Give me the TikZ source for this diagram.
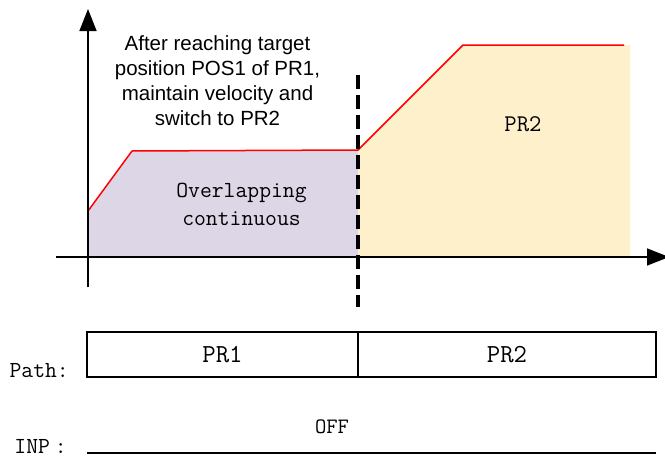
\documentclass[tikz,border=0pt]{standalone}
\usepackage{fontspec}
\newfontfamily\arialfont{Liberation Sans}
\usepackage{xcolor}
\usepackage{tikz}
\usetikzlibrary{positioning, arrows.meta}
\definecolor{overlapfill}{RGB}{220,214,230}
\definecolor{prfill}{RGB}{255,240,204}

\begin{document}
\begin{tikzpicture}[x=1pt, y=-1pt,
  every node/.style={inner sep=0pt},
  axis/.style={line width=1.6pt, -{Triangle[length=22pt, width=17pt]}},
  speed/.style={red, line width=1.5pt},
  ann/.style={font=\arialfont\fontsize{20.5}{25}\selectfont, align=center},
  lbl/.style={font=\ttfamily\fontsize{23}{28}\selectfont, align=center},
  seg/.style={draw, line width=1.4pt, outer sep=0pt, minimum height=45pt,
              font=\ttfamily\fontsize{26}{30}\selectfont}]
\useasboundingbox (0,0) rectangle (665,458);

% speed profile
\coordinate (o)  at (88,257);
\coordinate (s0) at (88,211);
\coordinate (s1) at (132,151);
\coordinate (sw) at (358,150);
\coordinate (sb) at (358,257);
\coordinate (s2) at (463,45);
\coordinate (s3) at (624,45);
\fill[overlapfill] (o) -- (s0) -- (s1) -- (sw) -- (sb) -- cycle;
\fill[prfill] (sb) -- (sw) -- (s2) -- (630,45) -- (630,257) -- cycle;
\draw[speed] (s0) -- (s1) -- (sw) -- (s2) -- (s3);

% axes
\coordinate (ybot) at (88,287);
\coordinate (ytop) at (88,9);
\coordinate (xl) at (56,257);
\coordinate (xr) at (669,257);
\draw[axis] (ybot) -- (ytop);
\draw[axis] (xl) -- (xr);

% switch point
\coordinate (dtop) at (358,75);
\coordinate (dbot) at (358,307);
\draw[line width=3.5pt, dash pattern=on 14pt off 6pt] (dtop) -- (dbot);

\node[ann, anchor=base] (note) at (217.5,125)
  {After reaching target\\position POS1 of PR1,\\maintain velocity and\\switch to PR2};
\node[lbl, anchor=base] (overlap) at (241.5,225) {Overlapping\\continuous};
\node[lbl, anchor=base, font=\ttfamily\fontsize{24}{28}\selectfont] (region2) at (523,131) {PR2};

% path row
\node[seg, minimum width=271pt] (pr1) at (222.5,354.5) {PR1};
\node[seg, minimum width=298pt, right=0pt of pr1] (pr2) {PR2};
\node[lbl, anchor=base east] (path) at (69,377) {Path:};

% INP row
\coordinate (inpl) at (87,453);
\coordinate (inpr) at (656,453);
\draw[line width=2pt] (inpl) -- (inpr);
\node[lbl, anchor=base east] (inp) at (67,453) {INP\hspace{5pt}:};
\node[lbl, anchor=base, font=\ttfamily\fontsize{22}{26}\selectfont] (off) at (332,433) {OFF};
\end{tikzpicture}
\end{document}
